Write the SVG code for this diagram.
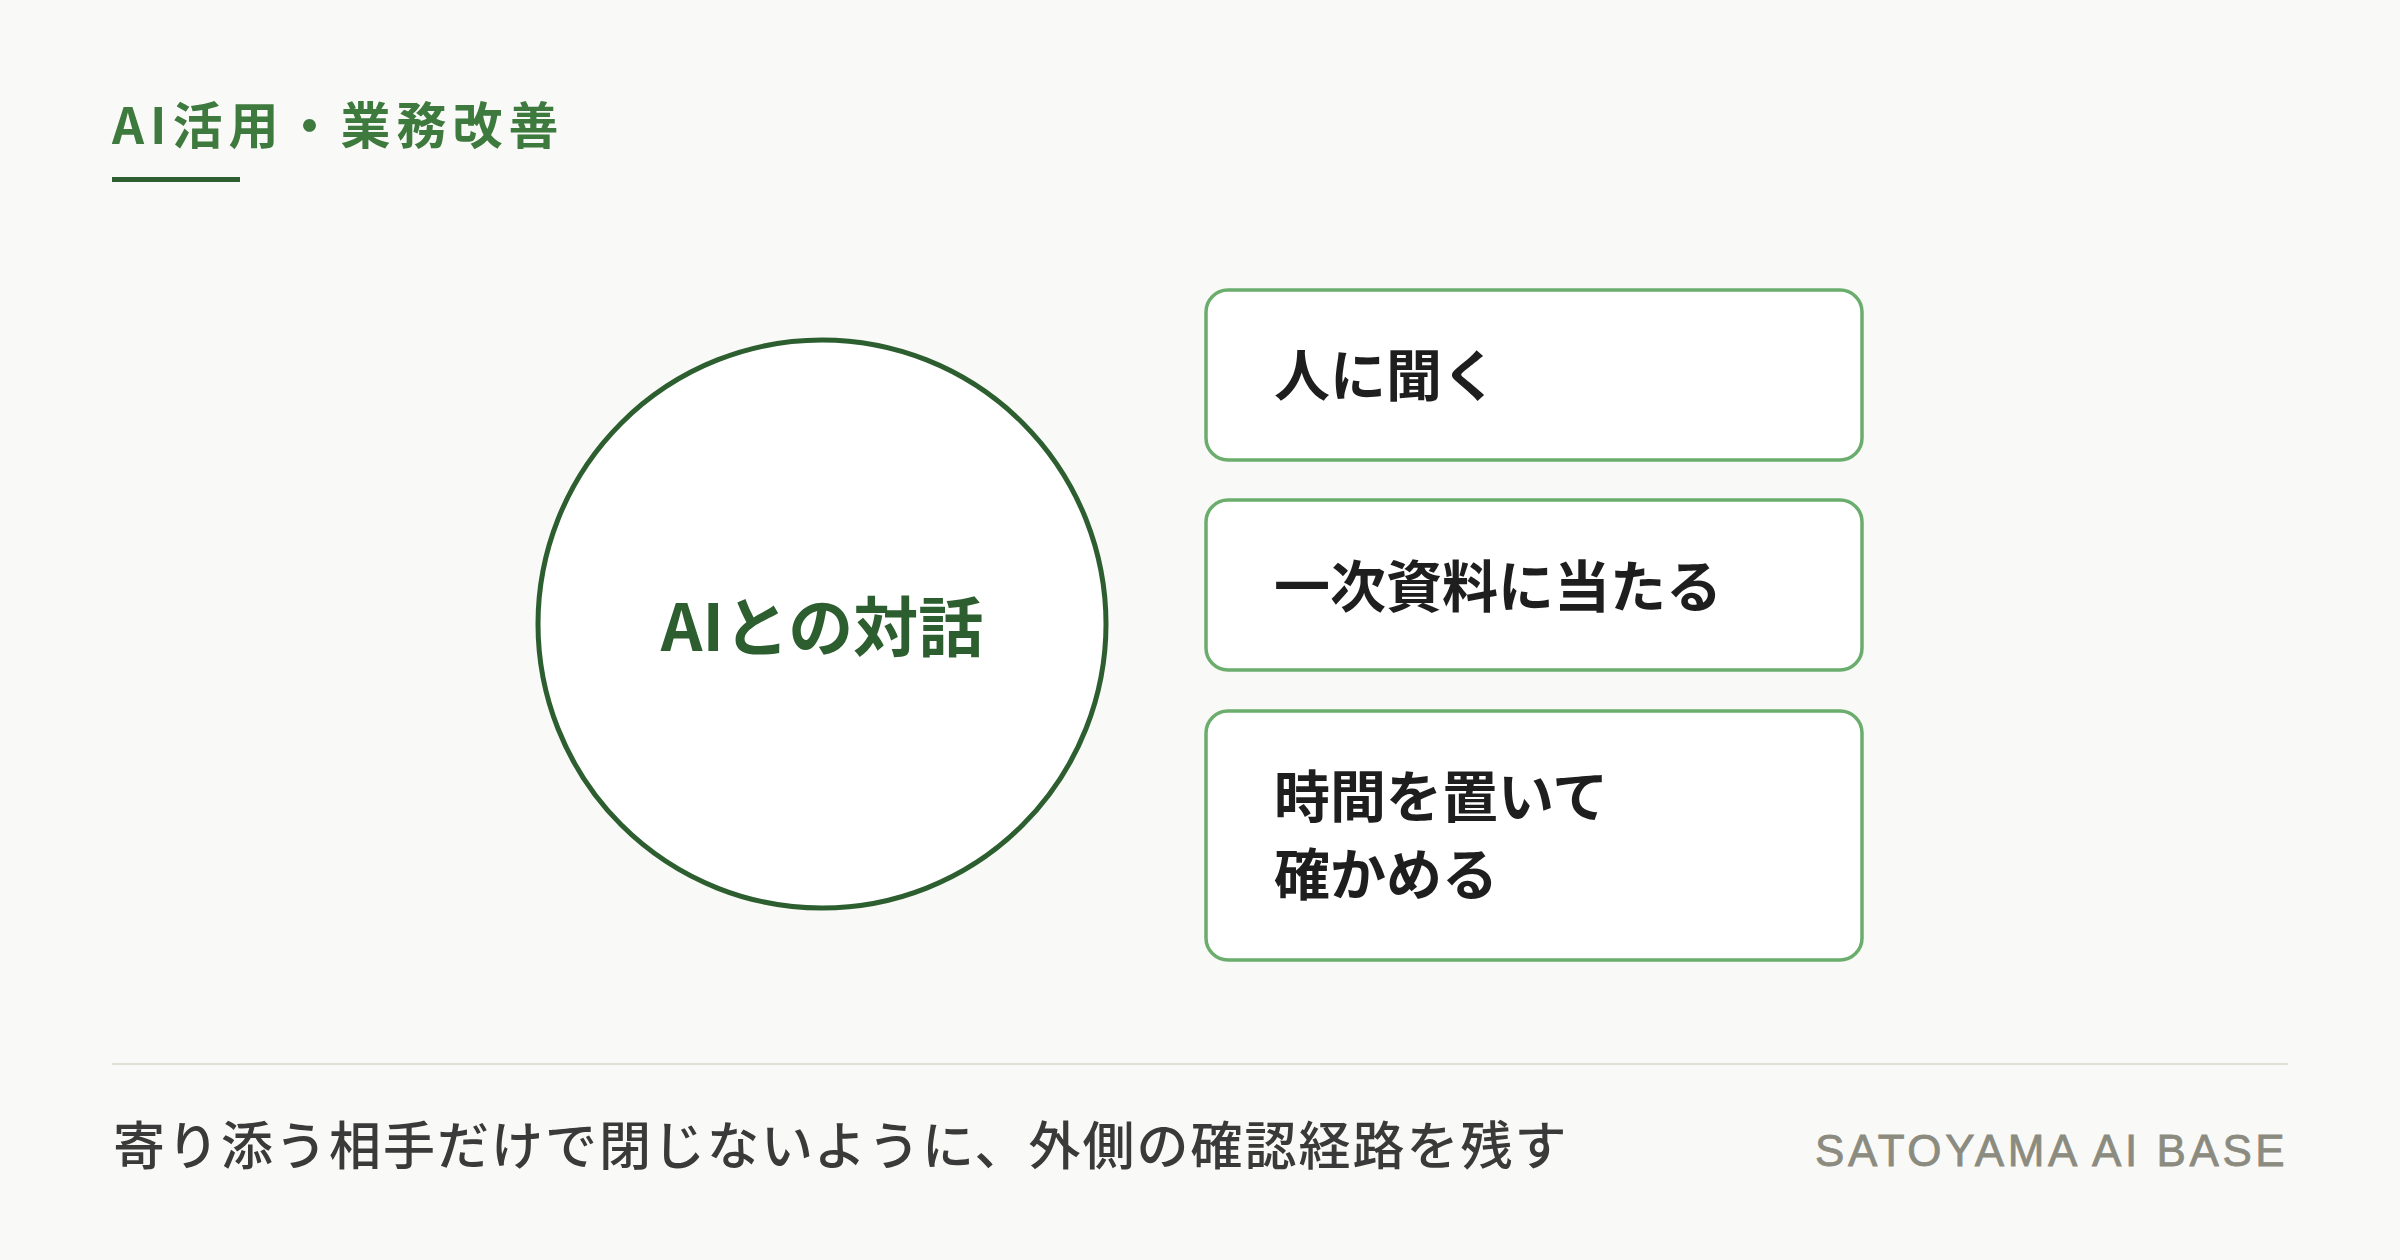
<svg xmlns="http://www.w3.org/2000/svg" width="2400" height="1260" viewBox="0 0 2400 1260">
<style>
text{font-family:"Noto Sans CJK JP","Noto Sans",sans-serif}
.title{font-size:50px;font-weight:700;fill:#3e7a3e;letter-spacing:6px}
.center{font-size:65px;font-weight:700;fill:#2d5e2f}
.box{fill:#ffffff;stroke:#6aad6c;stroke-width:3.5}
.lbl{font-size:56px;font-weight:700;fill:#1e1e1e}
.foot{font-size:52px;font-weight:500;fill:#3a3a3a;letter-spacing:2px}
.brand{font-family:"Liberation Sans",Arial,sans-serif;font-size:44px;fill:#8b8b80;stroke:#8b8b80;stroke-width:0.8;letter-spacing:3.6px}
</style>
<rect width="2400" height="1260" fill="#f9f9f7"/>
<g id="header">
<text class="title" x="112" y="144">AI活用・業務改善</text>
<rect x="112" y="177" width="128" height="5" fill="#2e5e30"/>
</g>
<g id="connectors"></g>
<g id="node-center">
<circle cx="822" cy="624" r="284" fill="#ffffff" stroke="#2d5e2f" stroke-width="5"/>
<text class="center" x="822" y="651" text-anchor="middle">AIとの対話</text>
</g>
<g id="node-ask">
<rect class="box" x="1206" y="290" width="656" height="170" rx="22"/>
<text class="lbl" x="1274" y="396">人に聞く</text>
</g>
<g id="node-source">
<rect class="box" x="1206" y="500" width="656" height="170" rx="22"/>
<text class="lbl" x="1274" y="607">一次資料に当たる</text>
</g>
<g id="node-time">
<rect class="box" x="1206" y="711" width="656" height="249" rx="22"/>
<text class="lbl" x="1274" y="817">時間を置いて</text>
<text class="lbl" x="1274" y="895">確かめる</text>
</g>
<g id="footer">
<line x1="112" y1="1064" x2="2288" y2="1064" stroke="#e2dfd6" stroke-width="2"/>
<text class="foot" x="113" y="1165">寄り添う相手だけで閉じないように、外側の確認経路を残す</text>
<text class="brand" x="1815" y="1166">SATOYAMA AI BASE</text>
</g>
</svg>
